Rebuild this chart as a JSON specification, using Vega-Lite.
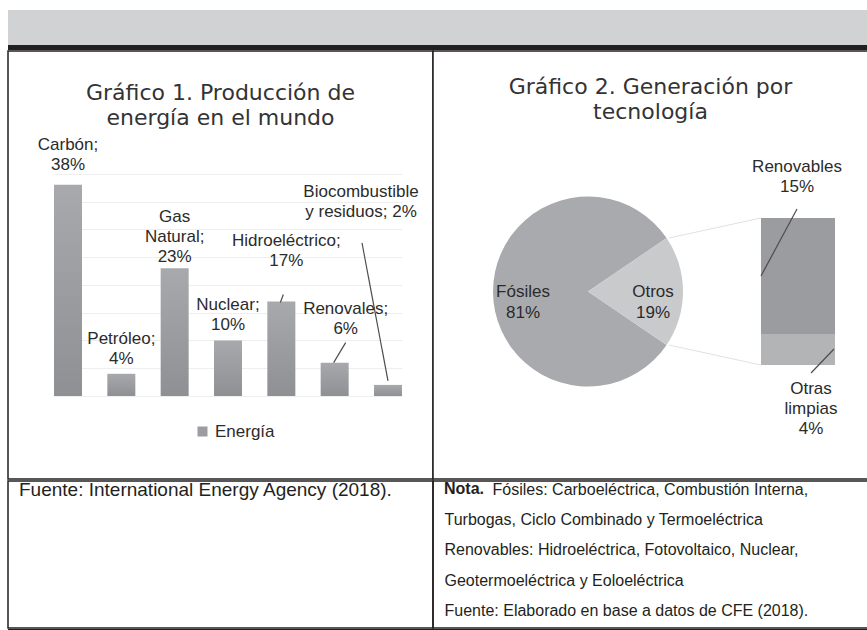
{
  "$schema": "https://vega.github.io/schema/vega-lite/v6.json",
  "background": "white",
  "padding": {"left": 7, "top": 10, "right": 0, "bottom": 0},
  "spacing": 0,
  "resolve": {"scale": {"color": "independent"}, "legend": {"color": "independent"}},
  "config": {
    "view": {"stroke": null},
    "font": "Liberation Sans",
    "text": {"font": "Liberation Sans", "fontSize": 17, "color": "#2b2b2b"},
    "concat": {"spacing": 0}
  },
  "datasets": {
    "produccion": [
      {"fuente": "Carbón", "valor": 38, "etiqueta": ["Carbón;", "38%"]},
      {"fuente": "Petróleo", "valor": 4, "etiqueta": ["Petróleo;", "4%"]},
      {"fuente": "Gas Natural", "valor": 23, "etiqueta": ["Gas", "Natural;", "23%"]},
      {"fuente": "Nuclear", "valor": 10, "etiqueta": ["Nuclear;", "10%"]},
      {"fuente": "Hidroeléctrico", "valor": 17, "etiqueta": ["Hidroeléctrico;", "17%"]},
      {"fuente": "Renovales", "valor": 6, "etiqueta": ["Renovales;", "6%"]},
      {"fuente": "Biocombustible y residuos", "valor": 2, "etiqueta": ["Biocombustible", "y residuos; 2%"]}
    ],
    "generacion": [
      {"tipo": "Fósiles", "valor": 81, "etiqueta": ["Fósiles", "81%"]},
      {"tipo": "Otros", "valor": 19, "etiqueta": ["Otros", "19%"]}
    ],
    "otros": [
      {"tipo": "Renovables", "valor": 15, "etiqueta": ["Renovables", "15%"]},
      {"tipo": "Otras limpias", "valor": 4, "etiqueta": ["Otras", "limpias", "4%"]}
    ],
    "nota": [
      {"texto": "Fósiles: Carboeléctrica, Combustión Interna,"},
      {"texto": "Turbogas, Ciclo Combinado y   Termoeléctrica"},
      {"texto": "Renovables: Hidroeléctrica, Fotovoltaico, Nuclear,"},
      {"texto": "Geotermoeléctrica y Eoloeléctrica"},
      {"texto": "Fuente: Elaborado en base a datos de CFE (2018)."}
    ]
  },
  "vconcat": [
    {
      "width": 860, "height": 35,
      "view": {"fill": "#d1d2d4", "stroke": null},
      "data": {"values": [{"franja": "cabecera"}]},
      "mark": {"type": "rect", "color": "#d1d2d4"},
      "encoding": {}
    },
    {
      "width": 860, "height": 5,
      "view": {"fill": "#231f20", "stroke": null},
      "data": {"values": [{"franja": "filete"}]},
      "mark": {"type": "rect", "color": "#231f20"},
      "encoding": {}
    },
    {
      "hconcat": [
        {
          "width": 425, "height": 428,
          "view": {"stroke": "#231f20", "strokeWidth": 1.5, "fill": "white"},
          "title": {"text": ["Gráfico 1. Producción de", "energía en el mundo"], "anchor": "middle", "frame": "group", "offset": -79, "font": "DejaVu Sans", "fontSize": 22, "fontWeight": "normal", "color": "#333333", "lineHeight": 25},
          "data": {"name": "produccion"},
          "encoding": {
            "x": {"field": "fuente", "type": "nominal", "sort": null, "axis": null, "scale": {"type": "band", "range": [46, 394], "paddingInner": 0.475, "paddingOuter": 0}},
            "y": {"field": "valor", "type": "quantitative", "scale": {"domain": [-14.93, 62.08], "nice": false, "zero": false}, "axis": {"values": [0, 5, 10, 15, 20, 25, 30, 35, 40], "grid": true, "gridColor": "#eeeeee", "labels": false, "ticks": false, "domain": false, "title": null}}
          },
          "layer": [
            {
              "mark": {"type": "bar", "fill": {"gradient": "linear", "x1": 0, "y1": 0, "x2": 0, "y2": 1, "stops": [{"offset": 0, "color": "#a8a9ac"}, {"offset": 1, "color": "#8f9093"}]}},
              "encoding": {"y2": {"datum": 0}}
            },
            {
              "mark": {"type": "bar"},
              "encoding": {
                "y": {"datum": 0}, "y2": {"datum": 0},
                "color": {"datum": "Energía", "type": "nominal", "scale": {"range": ["#9c9da0"]}, "legend": {"orient": "none", "legendX": 186, "legendY": 372, "title": null, "symbolType": "square", "symbolSize": 100, "symbolStrokeWidth": 0, "labelFontSize": 17, "labelColor": "#2b2b2b", "labelFont": "Liberation Sans", "padding": 0, "labelOffset": 4}}
              }
            },
            {
              "transform": [{"filter": {"field": "fuente", "equal": "Carbón"}}],
              "mark": {"type": "text", "baseline": "bottom", "dy": -31, "lineHeight": 20},
              "encoding": {"text": {"field": "etiqueta"}}
            },
            {
              "transform": [{"filter": {"field": "fuente", "oneOf": ["Petróleo", "Nuclear"]}}],
              "mark": {"type": "text", "baseline": "bottom", "dy": -26, "lineHeight": 20},
              "encoding": {"text": {"field": "etiqueta"}}
            },
            {
              "transform": [{"filter": {"field": "fuente", "equal": "Gas Natural"}}],
              "mark": {"type": "text", "baseline": "bottom", "dy": -42, "lineHeight": 20},
              "encoding": {"text": {"field": "etiqueta"}}
            },
            {
              "transform": [{"filter": {"field": "fuente", "equal": "Hidroeléctrico"}}],
              "mark": {"type": "text", "baseline": "bottom", "dx": 5, "dy": -52, "lineHeight": 20},
              "encoding": {"text": {"field": "etiqueta"}}
            },
            {
              "transform": [{"filter": {"field": "fuente", "equal": "Renovales"}}],
              "mark": {"type": "text", "baseline": "bottom", "dx": 11, "dy": -45, "lineHeight": 20},
              "encoding": {"text": {"field": "etiqueta"}}
            },
            {
              "transform": [{"filter": {"field": "fuente", "equal": "Biocombustible y residuos"}}],
              "mark": {"type": "text", "baseline": "bottom", "dx": -27, "dy": -184, "lineHeight": 20},
              "encoding": {"text": {"field": "etiqueta"}}
            },
            {
              "transform": [{"filter": {"field": "fuente", "equal": "Hidroeléctrico"}}],
              "mark": {"type": "rule", "color": "#4d4d4d", "strokeWidth": 1.2, "xOffset": 2, "yOffset": -7, "x2Offset": -1, "y2Offset": 1},
              "encoding": {"x2": {"field": "fuente"}, "y2": {"field": "valor"}}
            },
            {
              "transform": [{"filter": {"field": "fuente", "equal": "Renovales"}}],
              "mark": {"type": "rule", "color": "#4d4d4d", "strokeWidth": 1.2, "xOffset": 11, "yOffset": -20, "x2Offset": -1, "y2Offset": 0},
              "encoding": {"x2": {"field": "fuente"}, "y2": {"field": "valor"}}
            },
            {
              "transform": [{"filter": {"field": "fuente", "equal": "Biocombustible y residuos"}}],
              "mark": {"type": "rule", "color": "#4d4d4d", "strokeWidth": 1.2, "xOffset": -26, "yOffset": -142, "x2Offset": 0, "y2Offset": -4},
              "encoding": {"x2": {"field": "fuente"}, "y2": {"field": "valor"}}
            }
          ]
        },
        {
          "width": 435, "height": 428,
          "view": {"stroke": "#231f20", "strokeWidth": 1.5, "fill": "white"},
          "title": {"text": ["Gráfico 2. Generación por", "tecnología"], "anchor": "middle", "frame": "group", "offset": -73, "font": "DejaVu Sans", "fontSize": 22, "fontWeight": "normal", "color": "#333333", "lineHeight": 25},
          "layer": [
            {
              "data": {"name": "generacion"},
              "encoding": {
                "x": {"datum": "Generación", "type": "nominal", "axis": null, "scale": {"type": "band", "domain": ["Generación", "Otros"], "range": [118, 402], "paddingInner": 0.6476, "paddingOuter": 0}},
                "y": {"datum": 9.5, "type": "quantitative", "axis": null, "scale": {"domain": [-14.73, 40.58], "nice": false, "zero": false}},
                "theta": {"field": "valor", "type": "quantitative", "stack": true, "scale": {"range": [2.1677, 8.4509]}}
              },
              "layer": [
                {
                  "mark": {"type": "arc", "outerRadius": 95},
                  "encoding": {"color": {"field": "tipo", "type": "nominal", "legend": null, "scale": {"domain": ["Fósiles", "Otros", "Renovables", "Otras limpias"], "range": ["#a9aaad", "#c9cacc", "#9b9c9f", "#b3b4b6"]}}}
                },
                {
                  "mark": {"type": "text", "radius": 65, "dy": 0, "lineHeight": 21},
                  "encoding": {"text": {"field": "etiqueta"}, "detail": {"field": "tipo"}}
                }
              ]
            },
            {
              "data": {"name": "otros"},
              "transform": [{"stack": "valor", "groupby": [], "sort": [{"field": "tipo", "order": "ascending"}], "as": ["v0", "v1"]}],
              "encoding": {
                "x": {"datum": "Otros", "type": "nominal", "axis": null, "scale": {"type": "band", "domain": ["Generación", "Otros"], "range": [118, 402], "paddingInner": 0.6476, "paddingOuter": 0}},
                "y": {"field": "v1", "type": "quantitative", "axis": null, "scale": {"domain": [-14.73, 40.58], "nice": false, "zero": false}}
              },
              "layer": [
                {
                  "mark": {"type": "bar"},
                  "encoding": {"y2": {"field": "v0"}, "color": {"field": "tipo", "type": "nominal", "legend": null, "scale": {"domain": ["Fósiles", "Otros", "Renovables", "Otras limpias"], "range": ["#a9aaad", "#c9cacc", "#9b9c9f", "#b3b4b6"]}}}
                },
                {
                  "transform": [{"filter": {"field": "tipo", "equal": "Renovables"}}],
                  "mark": {"type": "rule", "color": "#e2e2e2", "strokeWidth": 1, "xOffset": -37, "x2Offset": -129, "y2Offset": 20},
                  "encoding": {"x2": {"datum": "Otros"}, "y2": {"field": "v1"}}
                },
                {
                  "transform": [{"filter": {"field": "tipo", "equal": "Otras limpias"}}],
                  "mark": {"type": "rule", "color": "#e2e2e2", "strokeWidth": 1, "xOffset": -37, "x2Offset": -129, "y2Offset": -20},
                  "encoding": {"y": {"field": "v0", "type": "quantitative"}, "x2": {"datum": "Otros"}, "y2": {"field": "v0"}}
                },
                {
                  "transform": [{"filter": {"field": "tipo", "equal": "Renovables"}}],
                  "mark": {"type": "text", "baseline": "bottom", "dx": -1, "dy": -42, "lineHeight": 20},
                  "encoding": {"text": {"field": "etiqueta"}}
                },
                {
                  "transform": [{"filter": {"field": "tipo", "equal": "Otras limpias"}}],
                  "mark": {"type": "text", "baseline": "top", "dx": 13, "dy": 16, "lineHeight": 20},
                  "encoding": {"y": {"field": "v0", "type": "quantitative"}, "text": {"field": "etiqueta"}}
                },
                {
                  "transform": [{"filter": {"field": "tipo", "equal": "Renovables"}}],
                  "mark": {"type": "rule", "color": "#4d4d4d", "strokeWidth": 1.2, "xOffset": -1, "yOffset": -9, "x2Offset": -37, "y2Offset": 58},
                  "encoding": {"x2": {"datum": "Otros"}, "y2": {"field": "v1"}}
                },
                {
                  "transform": [{"filter": {"field": "tipo", "equal": "Otras limpias"}}],
                  "mark": {"type": "rule", "color": "#4d4d4d", "strokeWidth": 1.2, "xOffset": 36, "yOffset": -16, "x2Offset": 13, "y2Offset": 8},
                  "encoding": {"y": {"field": "v0", "type": "quantitative"}, "x2": {"datum": "Otros"}, "y2": {"field": "v0"}}
                }
              ]
            }
          ]
        }
      ],
      "spacing": 0,
      "bounds": "flush",
      "resolve": {"scale": {"color": "independent"}, "legend": {"color": "independent"}}
    },
    {
      "hconcat": [
        {
          "width": 425, "height": 147,
          "view": {"stroke": "#231f20", "strokeWidth": 1.5},
          "title": {"text": "Fuente: International Energy Agency (2018).", "anchor": "start", "frame": "group", "offset": -19, "dx": 11, "font": "Liberation Sans", "fontSize": 19, "fontWeight": "normal", "color": "#231f20"},
          "data": {"values": [{"celda": "fuente"}]},
          "mark": {"type": "text", "text": "", "fontSize": 0}
        },
        {
          "width": 435, "height": 147,
          "view": {"stroke": "#231f20", "strokeWidth": 1.5},
          "title": {"text": "Nota.", "anchor": "start", "frame": "group", "offset": -16, "dx": 11, "font": "Liberation Sans", "fontSize": 16, "fontWeight": "bold", "color": "#231f20"},
          "data": {"name": "nota"},
          "mark": {"type": "text", "text": "", "fontSize": 0},
          "encoding": {
            "y": {
              "field": "texto", "type": "nominal", "sort": null,
              "scale": {"type": "point", "padding": 0.43, "align": 0.32},
              "axis": {
                "orient": "left", "title": null, "domain": false, "ticks": false, "tickSize": 0,
                "labelAlign": "left", "labelBaseline": "middle",
                "labelPadding": {"condition": {"test": "indexof(datum.value, 'Fósiles') === 0", "value": -59}, "value": -11},
                "labelFont": "Liberation Sans", "labelFontSize": 16, "labelColor": "#231f20",
                "labelLimit": 0, "labelOverlap": false, "labelBound": false
              }
            }
          }
        }
      ],
      "spacing": 0,
      "bounds": "flush"
    },
    {
      "width": 860, "height": 5,
      "view": {"fill": "#231f20", "stroke": null},
      "data": {"values": [{"franja": "base"}]},
      "mark": {"type": "rect", "color": "#231f20"},
      "encoding": {}
    }
  ]
}
